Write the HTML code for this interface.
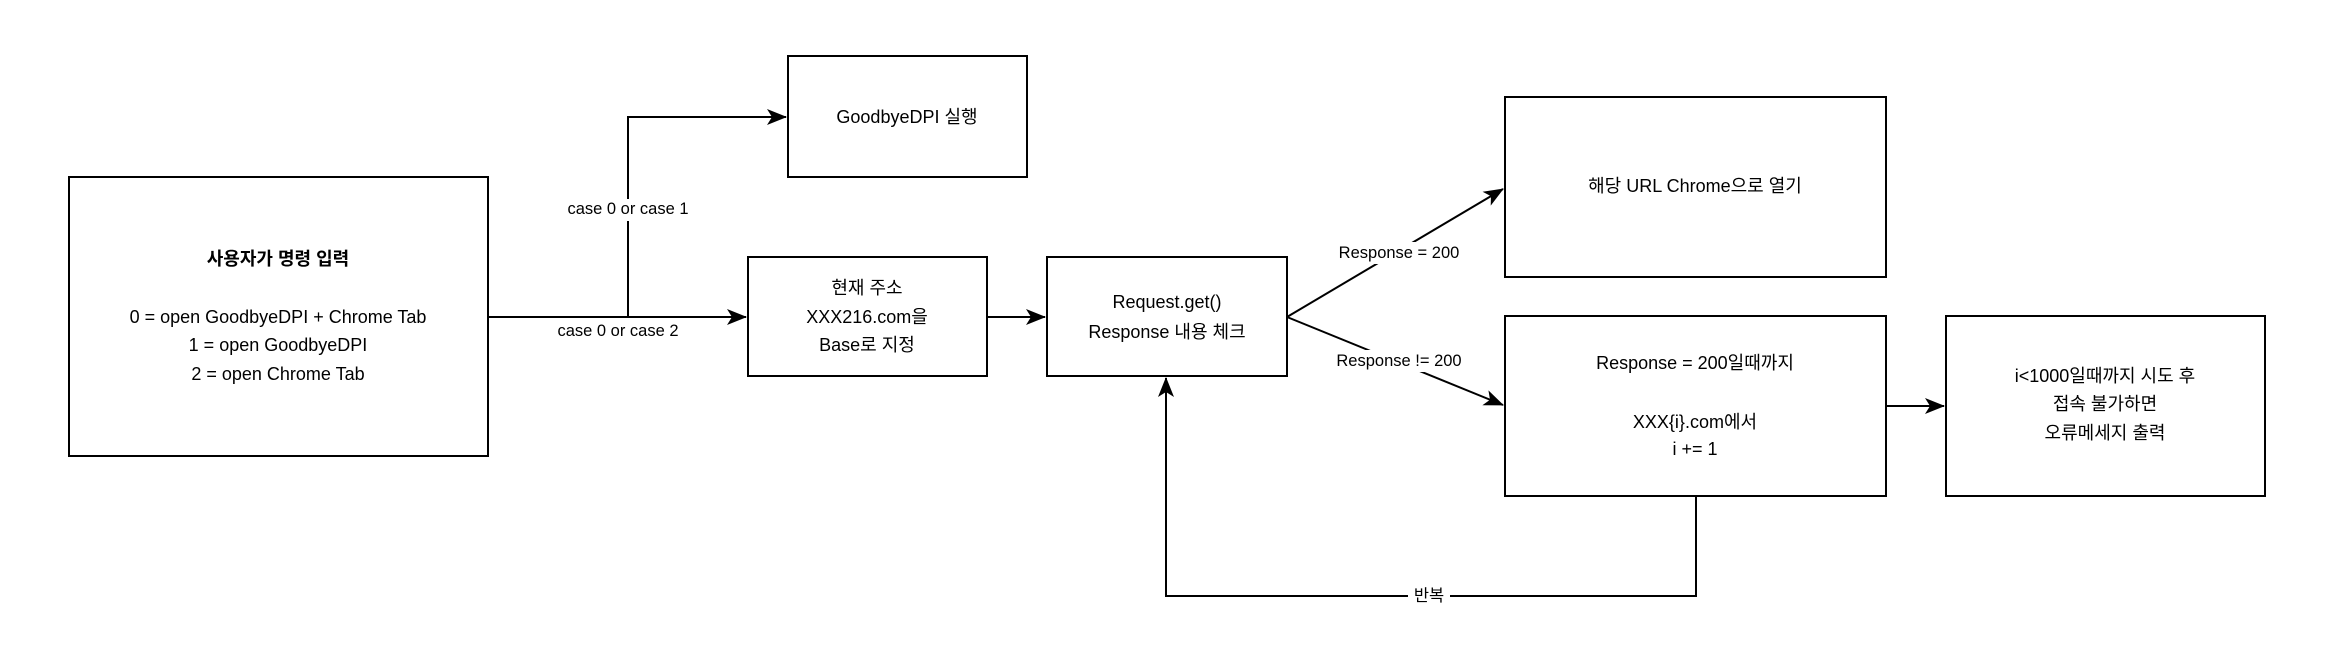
<!DOCTYPE html>
<html><head><meta charset="utf-8"><style>
html,body{margin:0;padding:0;background:#fff;}
svg{display:block;}
text{font-family:"Liberation Sans","Noto Sans CJK KR",sans-serif;font-size:18px;fill:#000;text-anchor:middle;dominant-baseline:central;}
.l{font-size:16.5px;}
</style></head><body>
<svg width="2336" height="664" viewBox="0 0 2336 664" xmlns="http://www.w3.org/2000/svg">
<defs>
<marker id="a" viewBox="0 0 10 10" refX="9" refY="5" markerWidth="10" markerHeight="10" markerUnits="userSpaceOnUse" orient="auto">
<path d="M0,0 L10,5 L0,10 L3,5 Z" fill="#000"/>
</marker>
<marker id="b" viewBox="0 0 20 20" refX="19" refY="10" markerWidth="20" markerHeight="20" markerUnits="userSpaceOnUse" orient="auto">
<path d="M0,2 L20,10 L0,18 L5,10 Z" fill="#000"/>
</marker>
</defs>
<g fill="#fff" stroke="#000" stroke-width="2">
<rect x="69" y="177" width="419" height="279"/>
<rect x="788" y="56" width="239" height="121"/>
<rect x="748" y="257" width="239" height="119"/>
<rect x="1047" y="257" width="240" height="119"/>
<rect x="1505" y="97" width="381" height="180"/>
<rect x="1505" y="316" width="381" height="180"/>
<rect x="1946" y="316" width="319" height="180"/>
</g>
<g fill="none" stroke="#000" stroke-width="2">
<path d="M488,317 H746" marker-end="url(#b)"/>
<path d="M628,317 V117 H786" marker-end="url(#b)"/>
<path d="M987,317 H1045" marker-end="url(#b)"/>
<path d="M1287,317 L1503,189" marker-end="url(#b)"/>
<path d="M1287,317 L1503,405" marker-end="url(#b)"/>
<path d="M1886,406 H1944" marker-end="url(#b)"/>
<path d="M1696,496 V596 H1166 V378" marker-end="url(#b)"/>
</g>
<rect x="545" y="199" width="166" height="22" fill="#fff"/>
<text class="l" x="628" y="209">case 0 or case 1</text>
<text class="l" x="618" y="331">case 0 or case 2</text>
<rect x="1318" y="242" width="162" height="22" fill="#fff"/>
<text class="l" x="1399" y="253">Response = 200</text>
<rect x="1314" y="350" width="170" height="22" fill="#fff"/>
<text class="l" x="1399" y="361">Response != 200</text>
<rect x="1408" y="585" width="42" height="22" fill="#fff"/>
<text class="l" x="1429" y="596">반복</text>

<text x="278" y="259" font-weight="bold">사용자가 명령 입력</text>
<text x="278" y="317">0 = open GoodbyeDPI + Chrome Tab</text>
<text x="278" y="345">1 = open GoodbyeDPI</text>
<text x="278" y="374">2 = open Chrome Tab</text>
<text x="907" y="117">GoodbyeDPI 실행</text>
<text x="867" y="288">현재 주소</text>
<text x="867" y="317">XXX216.com을</text>
<text x="867" y="345">Base로 지정</text>
<text x="1167" y="302">Request.get()</text>
<text x="1167" y="332">Response 내용 체크</text>
<text x="1695" y="186">해당 URL Chrome으로 열기</text>
<text x="1695" y="363">Response = 200일때까지</text>
<text x="1695" y="422">XXX{i}.com에서</text>
<text x="1695" y="449">i += 1</text>
<text x="2105" y="376">i&lt;1000일때까지 시도 후</text>
<text x="2105" y="404">접속 불가하면</text>
<text x="2105" y="433">오류메세지 출력</text>
</svg>
</body></html>
